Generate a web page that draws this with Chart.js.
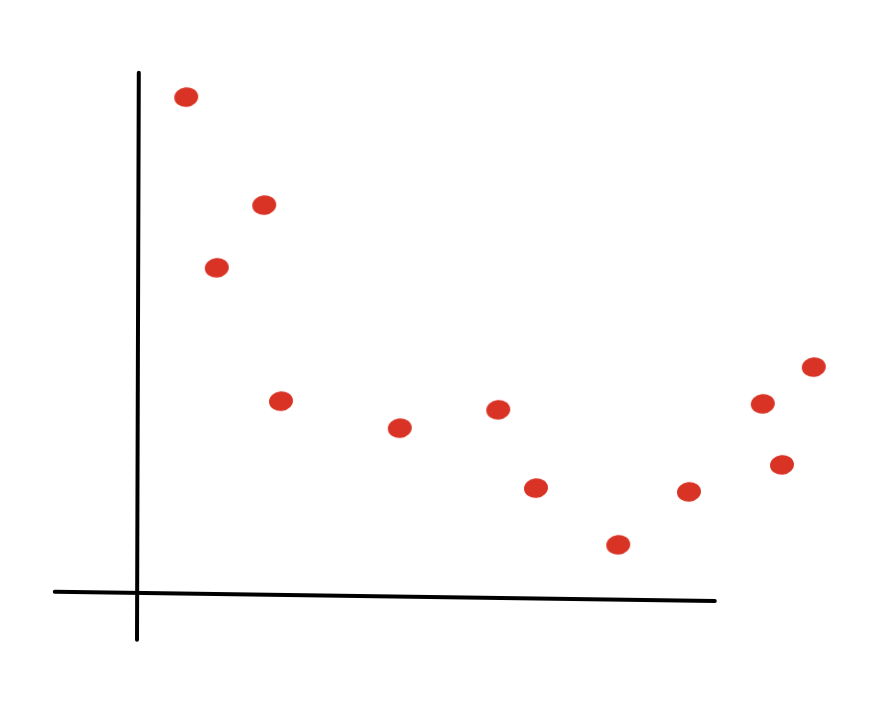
<!DOCTYPE html>
<html>
<head>
<meta charset="utf-8">
<script src="https://cdn.jsdelivr.net/npm/chart.js@4"></script>
<style>
  html, body { margin: 0; padding: 0; background: #fff; }
  #wrap { width: 888px; height: 718px; }
</style>
</head>
<body>
<div id="wrap"><canvas id="chart" width="888" height="718"></canvas></div>
<script>
// dot positions (x right, y up)
const xValues = [0.82, 1.33, 2.12, 2.40, 4.38, 6.02, 6.65, 8.02, 9.20, 10.43, 10.75, 11.28];
const yValues = [9.22, 6.06, 7.22, 3.59, 3.09, 3.43, 1.98, 0.93, 1.91, 3.54, 2.41, 4.22];

// hand drawn axes, in data units
const yAxisLine = [[0.03, 9.67], [0.0, -0.83]];
const xAxisLine = [[-1.37, 0.06], [9.63, -0.11]];

const points = xValues.map((x, i) => ({ x: x, y: yValues[i] }));

// marker-like blob, a bit wider than tall
const blob = document.createElement('canvas');
blob.width = 26;
blob.height = 22;
const bctx = blob.getContext('2d');
bctx.fillStyle = '#d93325';
bctx.beginPath();
bctx.ellipse(13, 11, 12, 9.8, -0.1, 0, Math.PI * 2);
bctx.fill();

const sketchAxes = {
    id: 'sketchAxes',
    beforeDatasetsDraw(chart) {
        const ctx = chart.ctx;
        const xs = chart.scales.x;
        const ys = chart.scales.y;
        ctx.save();
        ctx.strokeStyle = '#000';
        ctx.lineWidth = 4;
        ctx.lineCap = 'round';
        for (const line of [yAxisLine, xAxisLine]) {
            ctx.beginPath();
            ctx.moveTo(xs.getPixelForValue(line[0][0]), ys.getPixelForValue(line[0][1]));
            ctx.lineTo(xs.getPixelForValue(line[1][0]), ys.getPixelForValue(line[1][1]));
            ctx.stroke();
        }
        ctx.restore();
    }
};

new Chart(document.getElementById('chart'), {
    type: 'scatter',
    data: {
        datasets: [{
            data: points,
            pointStyle: blob,
            backgroundColor: '#d93325',
            borderColor: '#d93325',
            pointRadius: 11,
            pointHoverRadius: 11,
            borderWidth: 0,
            clip: false
        }]
    },
    options: {
        responsive: false,
        animation: false,
        layout: { padding: { left: 137, right: 31, top: 55, bottom: 123 } },
        plugins: { legend: { display: false }, tooltip: { enabled: false } },
        scales: {
            x: { type: 'linear', min: 0, max: 12, display: false },
            y: { type: 'linear', min: 0, max: 10, display: false }
        }
    },
    plugins: [sketchAxes]
});
</script>
</body>
</html>
